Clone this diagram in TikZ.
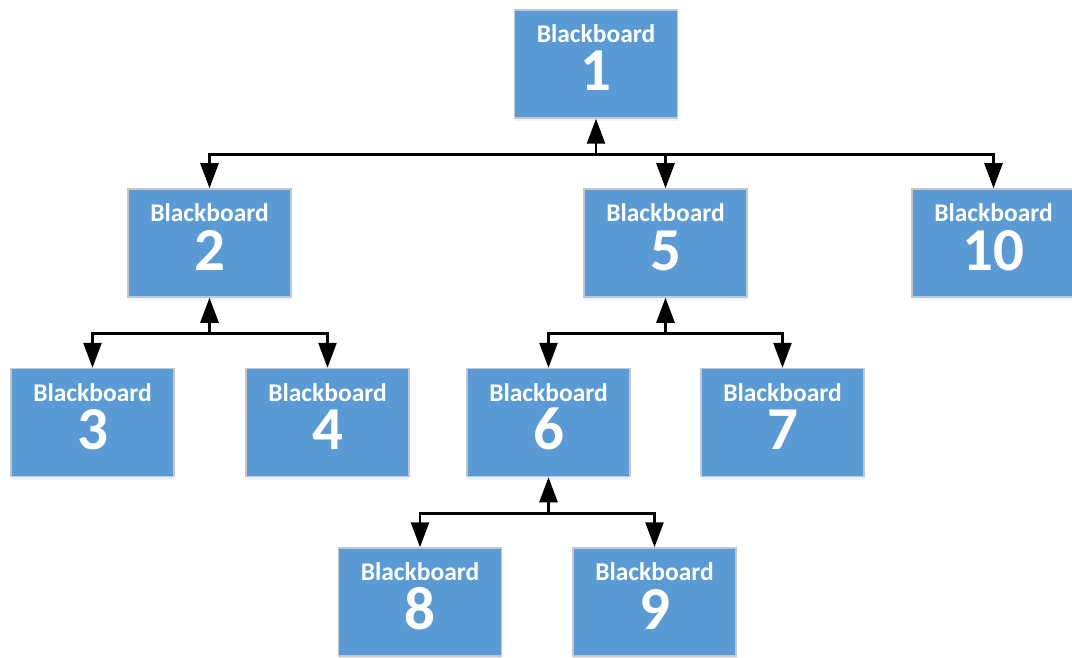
\documentclass[tikz,border=0pt]{standalone}
\usepackage{fontspec}
\setmainfont{Carlito}
\usetikzlibrary{arrows.meta,shadows,calc}
\definecolor{boxfill}{HTML}{5B9BD5}
\definecolor{boxedge}{HTML}{C3C8CE}

\begin{document}
\begin{tikzpicture}[x=1pt,y=-1pt,
  board/.style={draw=boxedge, line width=1.5pt, fill=boxfill,
    minimum width=163pt, minimum height=108pt, inner sep=0pt,
    drop shadow={shadow xshift=0pt, shadow yshift=-3pt, opacity=0.12, fill=boxfill}},
  title/.style={text=white, font=\fontsize{25.5}{25.5}\selectfont\bfseries,
    anchor=base, inner sep=0pt, text depth=0pt},
  num/.style={text=white, font=\fontsize{61}{61}\selectfont\bfseries,
    anchor=base, inner sep=0pt, text height=38pt, text depth=0pt},
  link/.style={line width=2.6pt, draw=black, line join=miter},
  tip/.style={-{Triangle[length=25pt,width=18pt]}}]

\useasboundingbox (0,0) rectangle (1072,658);

% boxes
\foreach \n/\x/\y in {1/596/64, 2/209.5/243, 5/665.5/243, 10/993.5/243,
                      3/92.5/422.5, 4/327.5/422.5, 6/548.5/422.5, 7/782.5/422.5,
                      8/420/602, 9/654.5/602} {
  \node[board] (b\n) at (\x,\y) {};
  \node[title] (t\n) at ($(b\n.center)+(0,-21.5)$) {Blackboard};
  \node[num] (n\n) at ($(b\n.center)+(0,27)$) {\n};
}

% junction points on the buses
\coordinate (j1) at ($(b1.south)+(0,36)$);
\coordinate (j2) at ($(b2.south)+(0,36)$);
\coordinate (j5) at ($(b5.south)+(0,36)$);
\coordinate (j6) at ($(b6.south)+(0,36)$);

% connectors
\draw[link,tip] (j1) -- (b1.south);
\draw[link,tip] (j1) -| (b2.north);
\draw[link,tip] (j1) -| (b5.north);
\draw[link,tip] (j1) -| (b10.north);

\draw[link,tip] (j2) -- (b2.south);
\draw[link,tip] (j2) -| (b3.north);
\draw[link,tip] (j2) -| (b4.north);

\draw[link,tip] (j5) -- (b5.south);
\draw[link,tip] (j5) -| (b6.north);
\draw[link,tip] (j5) -| (b7.north);

\draw[link,tip] (j6) -- (b6.south);
\draw[link,tip] (j6) -| (b8.north);
\draw[link,tip] (j6) -| (b9.north);
\end{tikzpicture}
\end{document}
